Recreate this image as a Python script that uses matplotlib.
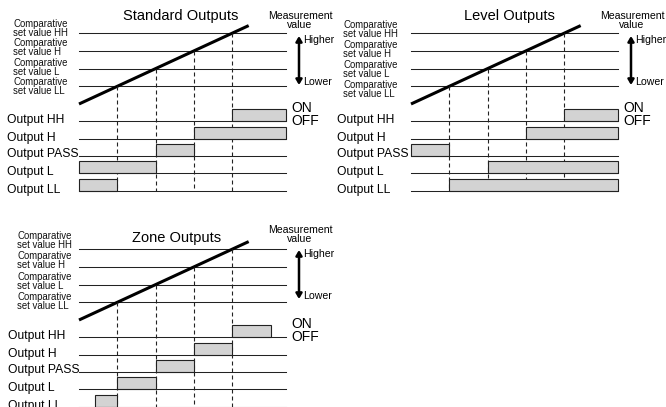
import matplotlib
matplotlib.use('Agg')
import matplotlib.pyplot as plt
from matplotlib.patches import Rectangle, FancyArrowPatch

plt.rcParams['font.family'] = ['Liberation Sans', 'DejaVu Sans']

# comparative set values (in units of the measurement value), crossed at t = 1..4
set_names = ['HH', 'H', 'L', 'LL']
set_values = [4, 3, 2, 1]
meas_start, meas_end = 0.0, 4.43   # measurement value rises linearly with time
t_end = 5.4

output_names = ['HH', 'H', 'PASS', 'L', 'LL']

# ON intervals (time units) for every output
standard_on = {'HH': [(4, t_end)], 'H': [(3, t_end)], 'PASS': [(2, 3)],
               'L': [(0, 2)], 'LL': [(0, 1)]}
level_on = {'HH': [(4, t_end)], 'H': [(3, t_end)], 'PASS': [(0, 1)],
            'L': [(2, t_end)], 'LL': [(1, t_end)]}
zone_on = {'HH': [(4, 5)], 'H': [(3, 4)], 'PASS': [(2, 3)],
           'L': [(1, 2)], 'LL': [(0.42, 1)]}

# layout (pixels)
UNIT = 38.3        # px per time unit
VAL = 17.7         # px per measurement unit
Y_ZERO = 104       # y of measurement value 0
OUT_Y = {'HH': 121, 'H': 139, 'PASS': 156, 'L': 173, 'LL': 191}
BOX_H = 12

panels = [
    dict(title='Standard Outputs', x0=79, dy=0, title_xy=(181, 16), states=standard_on,
         lab_x=13, lab_y0=28.5, lab_step=19.3, out_x=7, meas_dy=0),
    dict(title='Level Outputs', x0=411, dy=0, title_xy=(509, 16), states=level_on,
         lab_x=343, lab_y0=29.5, lab_step=20.0, out_x=337, meas_dy=0),
    dict(title='Zone Outputs', x0=79, dy=216, title_xy=(177, 238), states=zone_on,
         lab_x=17, lab_y0=24.5, lab_step=20.3, out_x=8, meas_dy=-2),
]

fig = plt.figure(figsize=(6.66, 4.07), dpi=100)
ax = fig.add_axes([0, 0, 1, 1])
ax.set_xlim(0, 666)
ax.set_ylim(407, 0)
ax.axis('off')

LINE_C = '#222222'

for p in panels:
    x0, dy = p['x0'], p['dy']
    px = lambda t: x0 + t * UNIT
    vy = lambda v: dy + Y_ZERO - v * VAL
    x_end = px(t_end)

    ax.text(p['title_xy'][0], p['title_xy'][1], p['title'], fontsize=10.5,
            ha='center', va='center')

    # set-value lines and labels
    for i, (name, v) in enumerate(zip(set_names, set_values)):
        ax.plot([px(0), x_end], [vy(v), vy(v)], color=LINE_C, lw=0.75)
        ax.text(p['lab_x'], dy + p['lab_y0'] + i * p['lab_step'],
                'Comparative\nset value ' + name, fontsize=6.9, ha='left',
                va='center', linespacing=0.9, color='#111111')

    # measurement value line
    ax.plot([px(meas_start), px(meas_end)], [vy(meas_start), vy(meas_end)],
            color='black', lw=2.2, solid_capstyle='butt')

    # dashed drop lines from each crossing
    for v in set_values:
        ax.plot([px(v), px(v)], [vy(v), dy + OUT_Y['LL']], color=LINE_C,
                lw=0.8, dashes=(3.6, 2.7))

    # outputs
    for name in output_names:
        base = dy + OUT_Y[name]
        for a, b in p['states'][name]:
            ax.add_patch(Rectangle((px(a), base - BOX_H), px(b) - px(a), BOX_H,
                                   facecolor='#d3d3d3', edgecolor=LINE_C, lw=0.8,
                                   zorder=2))
        ax.plot([px(0), x_end], [base, base], color=LINE_C, lw=0.75, zorder=3)
        ax.text(p['out_x'], base - 1.5, 'Output ' + name, fontsize=8.7,
                ha='left', va='center')

    # measurement value legend
    mx = x0 + 221
    my = dy + p['meas_dy']
    ax.text(mx, my + 16, 'Measurement', fontsize=7.6, ha='center', va='center')
    ax.text(mx, my + 25.5, 'value', fontsize=7.6, ha='center', va='center')
    arr = FancyArrowPatch((x0 + 220, my + 85), (x0 + 220, my + 36),
                          arrowstyle='<|-|>,head_length=0.5,head_width=0.3',
                          mutation_scale=6, lw=1.8, color='black',
                          shrinkA=0, shrinkB=0)
    ax.add_patch(arr)
    ax.text(x0 + 224, my + 40, 'Higher', fontsize=7.6, ha='left', va='center')
    ax.text(x0 + 224, my + 82, 'Lower', fontsize=7.6, ha='left', va='center')
    ax.text(x0 + 212, dy + 108, 'ON', fontsize=10, ha='left', va='center')
    ax.text(x0 + 212, dy + 121, 'OFF', fontsize=10, ha='left', va='center')

fig.savefig('out.png', dpi=100)
